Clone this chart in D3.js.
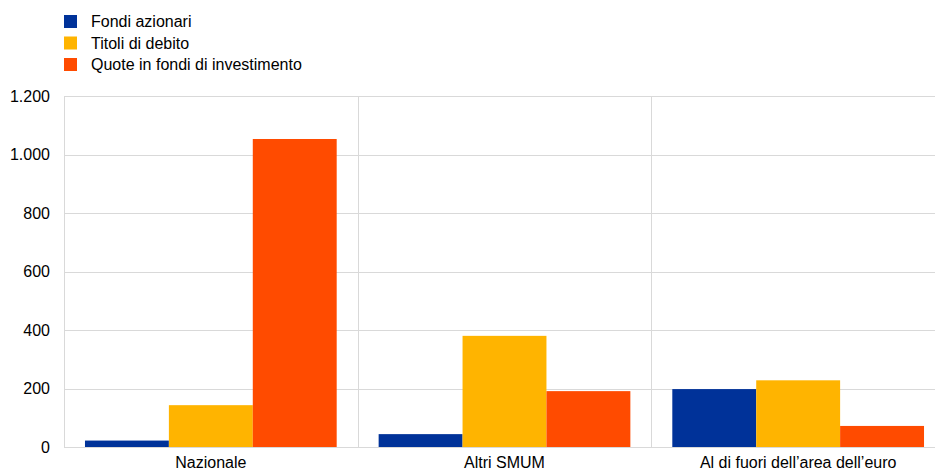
<!DOCTYPE html>
<html>
<head>
<meta charset="utf-8">
<script src="https://cdn.jsdelivr.net/npm/d3@7"></script>
<style>
  body { margin: 0; background: #fff; }
  text { font-family: "Liberation Sans", Arial, sans-serif; fill: #000; }
</style>
</head>
<body>
<div id="chart"></div>
<script>
(function () {
    var width = 935,
        height = 473;

    var categories = ["Nazionale", "Altri SMUM", "Al di fuori dell\u2019area dell\u2019euro"];
    var seriesNames = ["Fondi azionari", "Titoli di debito", "Quote in fondi di investimento"];
    var fondiAzionari = [22, 44, 198];
    var titoliDebito = [143, 380, 228];
    var quoteFondi = [1053, 191, 72];
    var yTicks = [0, 200, 400, 600, 800, 1000, 1200];
    var colors = ["#003299", "#ffb400", "#ff4b00"];

    var series = [fondiAzionari, titoliDebito, quoteFondi];

    var margin = { top: 96, left: 64, bottom: 26 };
    var plotRight = 945;

    var svg = d3.select("#chart").append("svg")
        .attr("width", width)
        .attr("height", height)

    var x = d3.scaleBand().domain(categories).range([margin.left, plotRight]).paddingInner(0).paddingOuter(0)
    var inner = d3.scaleBand().domain(d3.range(series.length)).range([0, x.bandwidth()]).paddingOuter(0.25).paddingInner(0)
    var y = d3.scaleLinear().domain([0, 1200]).range([height - margin.bottom, margin.top])

    // grid
    svg.append("g").selectAll("line")
        .data(yTicks)
        .enter().append("line")
        .attr("x1", margin.left).attr("x2", plotRight)
        .attr("y1", function (d) { return Math.round(y(d)) + 0.5 })
        .attr("y2", function (d) { return Math.round(y(d)) + 0.5 })
        .attr("stroke", "#d9d9d9")

    // category separators
    svg.append("g").selectAll("line")
        .data(categories)
        .enter().append("line")
        .attr("x1", function (d) { return Math.round(x(d)) + 0.5 })
        .attr("x2", function (d) { return Math.round(x(d)) + 0.5 })
        .attr("y1", y(1200)).attr("y2", y(0))
        .attr("stroke", "#d9d9d9")

    // bars
    series.forEach(function (vals, i) {
        svg.append("g").selectAll("rect")
            .data(vals)
            .enter().append("rect")
            .attr("x", function (d, j) { return x(categories[j]) + inner(i) })
            .attr("width", inner.bandwidth())
            .attr("y", function (d) { return y(d) })
            .attr("height", function (d) { return y(0) - y(d) })
            .attr("fill", colors[i])
    })

    // y axis labels
    var yAxis = d3.axisLeft(y).tickValues(yTicks).tickSize(0).tickPadding(14)
        .tickFormat(function (d) { return d3.format(",")(d).replace(/,/g, ".") })
    var gy = svg.append("g").attr("transform", "translate(" + margin.left + ",0)").call(yAxis)
    gy.select(".domain").remove()
    gy.selectAll("text").style("font-size", "16px").attr("fill", "#000")

    // x axis labels
    var xAxis = d3.axisBottom(x).tickSize(0).tickPadding(10)
    var gx = svg.append("g").attr("transform", "translate(0," + y(0) + ")").call(xAxis)
    gx.select(".domain").remove()
    gx.selectAll("text").style("font-size", "16px").attr("fill", "#000")

    // legend
    var legend = svg.append("g").selectAll("g")
        .data(seriesNames)
        .enter().append("g")
        .attr("transform", function (d, i) { return "translate(64," + (15 + i * 21.5) + ")" })
    legend.append("rect").attr("width", 13).attr("height", 13)
        .attr("fill", function (d, i) { return colors[i] })
    legend.append("text").attr("x", 27).attr("y", 12)
        .style("font-size", "16px")
        .text(function (d) { return d })
})();
</script>
</body>
</html>
